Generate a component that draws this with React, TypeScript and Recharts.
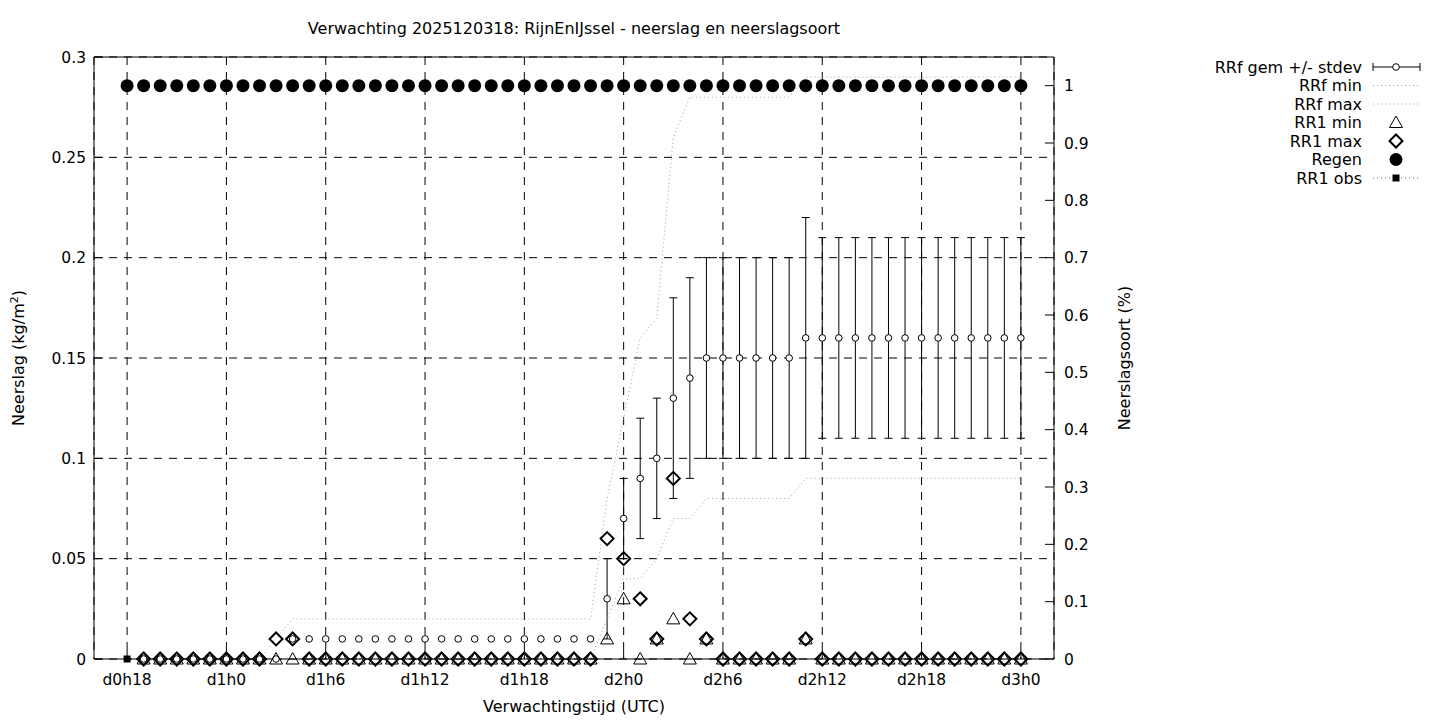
import React from 'react';
import { ComposedChart, Line, Scatter, XAxis, YAxis, CartesianGrid, ErrorBar, ReferenceLine } from 'recharts';

const N = null;

// forecast hours (0 = d0h0)
const HOURS = [
  18, 19, 20, 21, 22, 23, 24, 25, 26, 27, 28, 29, 30, 31, 32, 33, 34, 35, 36,
  37, 38, 39, 40, 41, 42, 43, 44, 45, 46, 47, 48, 49, 50, 51, 52, 53, 54, 55,
  56, 57, 58, 59, 60, 61, 62, 63, 64, 65, 66, 67, 68, 69, 70, 71, 72,
];

const X_TICKS = [18, 24, 30, 36, 42, 48, 54, 60, 66, 72];
const X_LABELS = ['d0h18', 'd1h0', 'd1h6', 'd1h12', 'd1h18', 'd2h0', 'd2h6', 'd2h12', 'd2h18', 'd3h0'];
const Y_TICKS = [0, 0.05, 0.1, 0.15, 0.2, 0.25, 0.3];
const Y_LABELS = ['0', '0.05', '0.1', '0.15', '0.2', '0.25', '0.3'];
const Y2_TICKS = [0, 0.1, 0.2, 0.3, 0.4, 0.5, 0.6, 0.7, 0.8, 0.9, 1];
const Y2_LABELS = ['0', '0.1', '0.2', '0.3', '0.4', '0.5', '0.6', '0.7', '0.8', '0.9', '1'];

// RRf gem (mean) and stdev
const RRF_MEAN = [
  N, 0, 0, 0, 0, 0, 0, 0, 0, 0,
  0.01, 0.01, 0.01, 0.01, 0.01, 0.01, 0.01, 0.01, 0.01, 0.01,
  0.01, 0.01, 0.01, 0.01, 0.01, 0.01, 0.01, 0.01, 0.01,
  0.03, 0.07, 0.09, 0.1, 0.13, 0.14,
  0.15, 0.15, 0.15, 0.15, 0.15, 0.15,
  0.16, 0.16, 0.16, 0.16, 0.16, 0.16, 0.16, 0.16, 0.16, 0.16, 0.16, 0.16, 0.16, 0.16,
];
const RRF_STDEV = [
  N, 0, 0, 0, 0, 0, 0, 0, 0, 0,
  0, 0, 0, 0, 0, 0, 0, 0, 0, 0,
  0, 0, 0, 0, 0, 0, 0, 0, 0,
  0.02, 0.02, 0.03, 0.03, 0.05, 0.05,
  0.05, 0.05, 0.05, 0.05, 0.05, 0.05,
  0.06, 0.05, 0.05, 0.05, 0.05, 0.05, 0.05, 0.05, 0.05, 0.05, 0.05, 0.05, 0.05, 0.05,
];
const RRF_MIN = [
  N, 0, 0, 0, 0, 0, 0, 0, 0, 0,
  0, 0, 0, 0, 0, 0, 0, 0, 0, 0,
  0, 0, 0, 0, 0, 0, 0, 0, 0,
  0.02, 0.04, 0.04, 0.05, 0.07, 0.07,
  0.08, 0.08, 0.08, 0.08, 0.08, 0.08,
  0.09, 0.09, 0.09, 0.09, 0.09, 0.09, 0.09, 0.09, 0.09, 0.09, 0.09, 0.09, 0.09, 0.09,
];
const RRF_MAX = [
  N, 0, 0, 0, 0, 0, 0, 0, 0, 0.01,
  0.02, 0.02, 0.02, 0.02, 0.02, 0.02, 0.02, 0.02, 0.02, 0.02,
  0.02, 0.02, 0.02, 0.02, 0.02, 0.02, 0.02, 0.02, 0.02,
  0.08, 0.12, 0.16, 0.17, 0.26, 0.28,
  0.28, 0.28, 0.28, 0.28, 0.28, 0.28,
  0.29, 0.29, 0.29, 0.29, 0.29, 0.29, 0.29, 0.29, 0.29, 0.29, 0.29, 0.29, 0.29, 0.29,
];
const RR1_MIN = [
  N, 0, 0, 0, 0, 0, 0, 0, 0, 0,
  0, 0, 0, 0, 0, 0, 0, 0, 0, 0,
  0, 0, 0, 0, 0, 0, 0, 0, 0,
  0.01, 0.03, 0, 0.01, 0.02, 0,
  0.01, 0, 0, 0, 0, 0,
  0.01, 0, 0, 0, 0, 0, 0, 0, 0, 0, 0, 0, 0, 0,
];
const RR1_MAX = [
  N, 0, 0, 0, 0, 0, 0, 0, 0, 0.01,
  0.01, 0, 0, 0, 0, 0, 0, 0, 0, 0,
  0, 0, 0, 0, 0, 0, 0, 0, 0,
  0.06, 0.05, 0.03, 0.01, 0.09, 0.02,
  0.01, 0, 0, 0, 0, 0,
  0.01, 0, 0, 0, 0, 0, 0, 0, 0, 0, 0, 0, 0, 0,
];
// neerslagsoort regen (right axis)
const REGEN = [
  1, 1, 1, 1, 1, 1, 1, 1, 1, 1, 1, 1, 1, 1, 1, 1, 1, 1, 1,
  1, 1, 1, 1, 1, 1, 1, 1, 1, 1, 1, 1, 1, 1, 1, 1, 1, 1, 1,
  1, 1, 1, 1, 1, 1, 1, 1, 1, 1, 1, 1, 1, 1, 1, 1, 1,
];
const RR1_OBS = [0];

const rows = HOURS.map((h, i) => ({
  h,
  mean: RRF_MEAN[i],
  sd: RRF_STDEV[i],
  rmin: RRF_MIN[i],
  rmax: RRF_MAX[i],
  r1min: RR1_MIN[i],
  r1max: RR1_MAX[i],
  regen: REGEN[i],
  obs: i < RR1_OBS.length ? RR1_OBS[i] : N,
}));

const FONT = 'DejaVu Sans';
const tickStyle = { fontSize: 15.5, fill: '#000', fontFamily: FONT };

const MeanDot = (p: any) =>
  p.cx == null ? null : <circle cx={p.cx} cy={p.cy} r={3.3} fill="#fff" stroke="#000" strokeWidth={1} />;

const Diamond = (p: any) =>
  p.cx == null ? null : (
    <path d={`M${p.cx},${p.cy - 6.5}L${p.cx + 6.5},${p.cy}L${p.cx},${p.cy + 6.5}L${p.cx - 6.5},${p.cy}Z`}
      fill="none" stroke="#000" strokeWidth={2} />
  );

const Triangle = (p: any) =>
  p.cx == null ? null : (
    <path d={`M${p.cx},${p.cy - 6.5}L${p.cx + 6.5},${p.cy + 5}L${p.cx - 6.5},${p.cy + 5}Z`}
      fill="none" stroke="#000" strokeWidth={1} />
  );

const Ball = (p: any) =>
  p.cx == null ? null : <circle cx={p.cx} cy={p.cy} r={6.5} fill="#000" />;

const Square = (p: any) =>
  p.cx == null || p.value == null ? null : <rect key={p.index} x={p.cx - 3.5} y={p.cy - 3.5} width={7} height={7} fill="#000" />;

const LEGEND_ROWS = ['RRf gem +/- stdev', 'RRf min', 'RRf max', 'RR1 min', 'RR1 max', 'Regen', 'RR1 obs'];

const LegendBox = () => {
  const ys = LEGEND_ROWS.map((_, i) => 17 + i * 18.5);
  return (
    <svg width={260} height={150} style={{ position: 'absolute', left: 1180, top: 50 }}>
      {LEGEND_ROWS.map((t, i) => (
        <text key={t} x={182} y={ys[i]} dy="0.35em" textAnchor="end" fontSize={16} fontFamily={FONT} fill="#000">{t}</text>
      ))}
      <line x1={193} x2={240} y1={ys[0]} y2={ys[0]} stroke="#000" />
      <line x1={193} x2={193} y1={ys[0] - 4} y2={ys[0] + 4} stroke="#000" />
      <line x1={240} x2={240} y1={ys[0] - 4} y2={ys[0] + 4} stroke="#000" />
      <MeanDot cx={216} cy={ys[0]} />
      <line x1={193} x2={240} y1={ys[1]} y2={ys[1]} stroke="#a0a0a0" strokeDasharray="1 3" />
      <line x1={193} x2={240} y1={ys[2]} y2={ys[2]} stroke="#a0a0a0" strokeDasharray="1 3" />
      <Triangle cx={216} cy={ys[3]} />
      <Diamond cx={216} cy={ys[4]} />
      <Ball cx={216} cy={ys[5]} />
      <line x1={193} x2={240} y1={ys[6]} y2={ys[6]} stroke="#666" strokeDasharray="1 3" />
      <Square cx={216} cy={ys[6]} value={0} />
    </svg>
  );
};

export default function App() {
  return (
    <div style={{ position: 'absolute', left: 0, top: 0, width: 1440, height: 720, background: '#fff', fontFamily: FONT }}>
      <ComposedChart width={1440} height={720} data={rows} margin={{ top: 57, right: 326, bottom: 31, left: 34 }}>
        <CartesianGrid stroke="#000" strokeDasharray="8 7" />
        <XAxis type="number" dataKey="h" domain={[16, 74]} ticks={X_TICKS} interval={0}
          tickFormatter={(v: number) => X_LABELS[X_TICKS.indexOf(v)]} height={30}
          tickSize={-9} tickMargin={24} axisLine={{ stroke: '#000' }} tickLine={{ stroke: '#000' }} tick={tickStyle} />
        <YAxis yAxisId={0} domain={[0, 0.3]} ticks={Y_TICKS} interval={0} width={60}
          tickFormatter={(v: number) => Y_LABELS[Y_TICKS.indexOf(v)]}
          tickSize={-9} tickMargin={17} axisLine={{ stroke: '#000' }} tickLine={{ stroke: '#000' }} tick={tickStyle} />
        <YAxis yAxisId="right" orientation="right" domain={[0, 1.05]} ticks={Y2_TICKS} interval={0} width={60}
          tickFormatter={(v: number) => Y2_LABELS[Y2_TICKS.indexOf(v)]}
          tickSize={-9} tickMargin={19} axisLine={{ stroke: '#000' }} tickLine={{ stroke: '#000' }} tick={tickStyle} />
        <ReferenceLine y={0.3} stroke="#000" />

        <Scatter name="RRf gem +/- stdev" data={rows.filter(r => r.mean !== null)} dataKey="mean" shape={MeanDot} isAnimationActive={false}>
          <ErrorBar dataKey="sd" direction="y" width={4} stroke="#000" strokeWidth={1} />
        </Scatter>
        <Line name="RRf min" dataKey="rmin" type="linear" stroke="#a0a0a0" strokeDasharray="1 3" dot={false} activeDot={false} isAnimationActive={false} />
        <Line name="RRf max" dataKey="rmax" type="linear" stroke="#a0a0a0" strokeDasharray="1 3" dot={false} activeDot={false} isAnimationActive={false} />
        <Scatter name="RR1 min" data={rows.filter(r => r.r1min !== null)} dataKey="r1min" shape={Triangle} isAnimationActive={false} />
        <Scatter name="RR1 max" data={rows.filter(r => r.r1max !== null)} dataKey="r1max" shape={Diamond} isAnimationActive={false} />
        <Scatter name="Regen" yAxisId="right" data={rows} dataKey="regen" shape={Ball} isAnimationActive={false} />
        <Line name="RR1 obs" dataKey="obs" type="linear" stroke="#666" strokeDasharray="1 3" dot={Square} activeDot={false} isAnimationActive={false} />
      </ComposedChart>

      <div style={{ position: 'absolute', left: 0, width: 1148, top: 19, textAlign: 'center', fontSize: 16 }}>
        Verwachting 2025120318: RijnEnIJssel - neerslag en neerslagsoort
      </div>
      <div style={{ position: 'absolute', left: 0, width: 1148, top: 697, textAlign: 'center', fontSize: 16 }}>
        Verwachtingstijd (UTC)
      </div>
      <div style={{ position: 'absolute', left: 18, top: 358, fontSize: 16, whiteSpace: 'nowrap', transform: 'translate(-50%, -50%) rotate(-90deg)' }}>
        Neerslag (kg/m<sup style={{ fontSize: 11 }}>2</sup>)
      </div>
      <div style={{ position: 'absolute', left: 1124, top: 358, fontSize: 16, whiteSpace: 'nowrap', transform: 'translate(-50%, -50%) rotate(-90deg)' }}>
        Neerslagsoort (%)
      </div>
      <LegendBox />
    </div>
  );
}
